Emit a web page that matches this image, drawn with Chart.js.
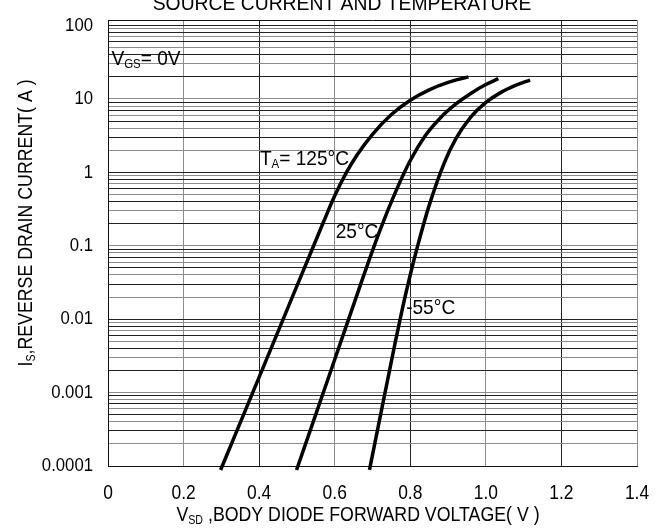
<!DOCTYPE html>
<html>
<head>
<meta charset="utf-8">
<script src="https://cdn.jsdelivr.net/npm/chart.js@4.4.0/dist/chart.umd.min.js"></script>
<style>
  html, body { margin: 0; padding: 0; background: #fff; }
</style>
</head>
<body>
<canvas id="chartBodyDiodeCanvas" width="664" height="532"></canvas>
<script>

// body diode forward characteristic, one curve per ambient temperature
var vsd125  = [0.298, 0.45, 0.57, 0.60, 0.63, 0.66, 0.70, 0.75, 0.80, 0.85, 0.90, 0.954];
var is125   = [0.0000883, 0.00678, 0.209, 0.479, 0.977, 1.75, 3.30, 6.14, 9.62, 13.3, 16.8, 20.0];

var vsd25   = [0.499, 0.59, 0.68, 0.72, 0.76, 0.80, 0.84, 0.88, 0.92, 0.96, 1.00, 1.033];
var is25    = [0.0000883, 0.002, 0.044, 0.163, 0.526, 1.45, 3.17, 5.56, 8.49, 11.9, 15.7, 18.9];

var vsdM55  = [0.692, 0.76, 0.78, 0.80, 0.82, 0.85, 0.89, 0.92, 0.96, 1.00, 1.04, 1.08, 1.117];
var isM55   = [0.0000883, 0.00479, 0.0146, 0.0403, 0.102, 0.355, 1.35, 2.84, 5.66, 8.97, 12.3, 15.4, 18.1];

var xTicks      = [0, 0.2, 0.4, 0.6, 0.8, 1.0, 1.2, 1.4];
var xTickLabels = ["0", "0.2", "0.4", "0.6", "0.8", "1.0", "1.2", "1.4"];
var yDecades    = [0.0001, 0.001, 0.01, 0.1, 1, 10, 100];
var yTickLabels = ["0.0001", "0.001", "0.01", "0.1", "1", "10", "100"];

var FONT = '"Liberation Sans", Arial, sans-serif';

// log grid: 1..9 in every decade, then the top decade line
var yTicks = [];
for (var d = 0; d < yDecades.length - 1; d++) {
    for (var m = 1; m <= 9; m++) yTicks.push(m * yDecades[d]);
}
yTicks.push(yDecades[yDecades.length - 1]);

function toPoints(xs, ys) {
    return xs.map(function (v, i) { return { x: v, y: ys[i] }; });
}

function gridColor(ctx) {
    return ctx.index % 2 ? "#8c8c8c" : "#222";
}

// narrow lettering: draw squeezed horizontally
function drawNarrow(ctx, text, x, y, size, squeeze, align) {
    ctx.save();
    ctx.translate(x, y);
    ctx.scale(squeeze, 1);
    ctx.font = size + "px " + FONT;
    ctx.textAlign = align;
    ctx.fillText(text, 0, 0);
    ctx.restore();
}

// text with subscripts: parts = [[text, isSub], ...]
function partsWidth(ctx, parts, size) {
    var w = 0;
    parts.forEach(function (p) {
        ctx.font = (p[1] ? size * 0.6 : size) + "px " + FONT;
        w += ctx.measureText(p[0]).width;
    });
    return w;
}
function drawParts(ctx, parts, x, y, size, squeeze) {
    ctx.save();
    ctx.translate(x, y);
    ctx.scale(squeeze, 1);
    ctx.textAlign = "left";
    var cx = 0;
    parts.forEach(function (p) {
        ctx.font = (p[1] ? size * 0.6 : size) + "px " + FONT;
        ctx.fillText(p[0], cx, p[1] ? size * 0.15 : 0);
        cx += ctx.measureText(p[0]).width;
    });
    ctx.restore();
}

var labelsPlugin = {
    id: "chartTexts",
    afterDraw: function (chart) {
        var ctx = chart.ctx;
        var area = chart.chartArea;
        var sx = chart.scales.x, sy = chart.scales.y;
        ctx.save();

        // top edge of the frame
        ctx.strokeStyle = "#111";
        ctx.lineWidth = 1;
        ctx.beginPath();
        ctx.moveTo(area.left, Math.round(area.top) + 0.5);
        ctx.lineTo(area.right, Math.round(area.top) + 0.5);
        ctx.stroke();

        ctx.fillStyle = "#000";

        // tick labels
        ctx.textBaseline = "middle";
        yDecades.forEach(function (v, k) {
            drawNarrow(ctx, yTickLabels[k], 93, sy.getPixelForValue(v), 19, 0.88, "right");
        });
        xTicks.forEach(function (v, k) {
            drawNarrow(ctx, xTickLabels[k], sx.getPixelForValue(v), 493, 20, 0.87, "center");
        });

        ctx.textBaseline = "alphabetic";

        // title, partly cut off by the top of the canvas
        drawNarrow(ctx, "SOURCE CURRENT AND TEMPERATURE", 342, 10, 21, 0.92, "center");

        // curve and condition labels, placed in data coordinates
        var notes = [
            { v: 0.009, i: 29,     parts: [["V", false], ["GS", true], ["= 0V", false]] },
            { v: 0.402, i: 1.26,   parts: [["T", false], ["A", true], ["= 125°C", false]] },
            { v: 0.6025, i: 0.128, parts: [["25°C", false]] },
            { v: 0.789, i: 0.0118, parts: [["-55°C", false]] }
        ];
        notes.forEach(function (n) {
            drawParts(ctx, n.parts, sx.getPixelForValue(n.v), sy.getPixelForValue(n.i), 21, 0.91);
        });

        // x axis title
        var xt = [["V", false], ["SD", true], [" ,BODY DIODE FORWARD VOLTAGE( V )", false]];
        drawParts(ctx, xt, 358 - partsWidth(ctx, xt, 21) * 0.845 / 2, 521, 21, 0.845);

        // y axis title, reading upwards
        var yt = [["I", false], ["S", true], [",REVERSE DRAIN CURRENT( A )", false]];
        ctx.translate(32, 223);
        ctx.rotate(-Math.PI / 2);
        drawParts(ctx, yt, -partsWidth(ctx, yt, 21) * 0.845 / 2, 0, 21, 0.845);

        ctx.restore();
    }
};

var canvas = document.getElementById("chartBodyDiodeCanvas");

function curve(label, xs, ys) {
    return {
        label: label,
        data: toPoints(xs, ys),
        borderColor: "#000",
        borderWidth: 3.5,
        pointRadius: 0,
        fill: false,
        cubicInterpolationMode: "monotone",
        clip: { left: 0, top: 4, right: 4, bottom: 6 }
    };
}

new Chart(canvas, {
    type: "line",
    data: {
        datasets: [
            curve("125°C", vsd125, is125),
            curve("25°C", vsd25, is25),
            curve("-55°C", vsdM55, isM55)
        ]
    },
    options: {
        responsive: false,
        animation: false,
        events: [],
        layout: { padding: { left: 0, right: 27, top: 20, bottom: 0 } },
        plugins: {
            legend: { display: false },
            tooltip: { enabled: false },
            title: { display: false }
        },
        scales: {
            x: {
                type: "linear",
                min: 0,
                max: 1.4,
                afterBuildTicks: function (axis) {
                    axis.ticks = xTicks.map(function (v) { return { value: v }; });
                },
                afterFit: function (axis) { axis.height = 66; },
                ticks: { display: false, autoSkip: false },
                grid: { color: gridColor, lineWidth: 1, drawTicks: false },
                border: { color: "#111" }
            },
            y: {
                type: "logarithmic",
                min: 0.0001,
                max: 119,
                afterBuildTicks: function (axis) {
                    axis.ticks = yTicks.map(function (v) { return { value: v }; });
                },
                afterFit: function (axis) { axis.width = 108; },
                ticks: { display: false, autoSkip: false },
                grid: { color: gridColor, lineWidth: 1, drawTicks: false },
                border: { color: "#111" }
            }
        }
    },
    plugins: [labelsPlugin]
});
</script>
</body>
</html>
